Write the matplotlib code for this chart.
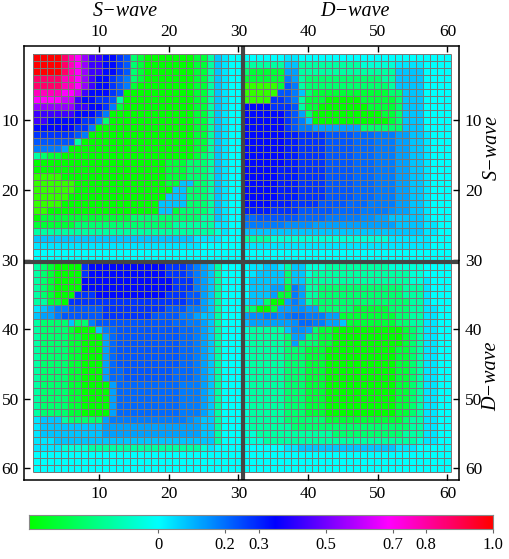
import numpy as np
import matplotlib
matplotlib.use('Agg')
import matplotlib.pyplot as plt
from matplotlib.colors import LinearSegmentedColormap, Normalize

# letter -> value
levels = {'Z': -0.45, 'A': -0.386, 'B': -0.30, 'C': -0.22, 'D': -0.14, 'E': -0.06, '0': 0.0,
          'a': 0.035, 'b': 0.08, 'c': 0.13, 'y': 0.155, 'd': 0.18, 'x': 0.205, 'e': 0.23,
          'f': 0.28, 'v': 0.31, 'g': 0.34, 'h': 0.43, 'i': 0.55, 'j': 0.62, 'k': 0.69,
          'l': 0.77, 'm': 0.87, 'n': 1.0}

ss_rows = [
    "nnnnmlkihhggfeCBAAAAAAABBDba00",
    "nnnnmlkihhggfeCBAAAAAAABBDba00",
    "nnnnmlkihhggfeCBAAAAAAABBDba00",
    "mmmmllkihggfedCBAAAAAAABBDba00",
    "mmmmllkihggfedBAAAAAAAABBDba00",
    "llllkkjhgggfeAAAAAAAAAABBDba00",
    "kkkkjjhggffeDAAAAAAAAAABBDba00",
    "iiiiiihhggfdBAAAAAAAAAABBDba00",
    "hhhhhhgggfdAAAAAAAAAAAABBDba00",
    "hhgggggffdCAAAAAAAAAAAABBDba00",
    "ggggggffdAAAAAAAAAAAAAABBDba00",
    "ffffffedAAAAAAAAAAAAAAABBDba00",
    "eeeeeeDAAAAAAAAAAAAAAAABBDba00",
    "ddddcAAAAAAAAAAAAAAAAAABBDba00",
    "DCBBAAAAAAAAAAAAAAAAAAABCDba00",
    "AAAAAAAAAAAAAAAAAAABBBCCCDba00",
    "AAAAAAAAAAAAAAAAAAABBBCCCDba00",
    "ZZZZAAAAAAAAAAAAAAABBBCCCDba00",
    "ZZZZZZAAAAAAAAAAAAABBbbCCDba00",
    "ZZZZZZAAAAAAAAAAAAAAbbCCCDba00",
    "ZZZZZAAAAAAAAAAAAAAbbbCCCDba00",
    "ZZZZAAAAAAAAAAAAAAbbbbCCCDba00",
    "ZZAAAAAAAAAAAAAAAAbbBCCCCDba00",
    "ABBBBBBBBBBBBBCCCCCCCCCCDDba00",
    "BBBBBBCCCCCCCCCCCCCCDDDDDDaa00",
    "DDDDDDDDDDDDDDDDDDDDDDDDDDEa00",
    "bbbbbbbbbbbbbbbbbbbbbbbaaaa000",
    "aaaaaaaaaaaaaaaaaaaaaaaa000000",
    "000000000000000000000000000000",
    "000000000000000000000000000000",
]

sd_rows = [
    "000000aa0000000000000000000000",
    "DDDDDDbbDDDDDDDDDEEEEEaaaa0000",
    "CBBBBBccDDDDDDDDDDDDDDbbbb0000",
    "BBBBBBdcDCCCCCCCCCCCDDbbbb0000",
    "ZZZZZBedDCCCCCCCCCCCCDbbbb0000",
    "ZZZZZeedbCBBBBBBBBBBBCCbbb0000",
    "ZZZZffedDBBBAAAAABBBBBCbbb0000",
    "ggggfffeDBBAAAAAAABBBBCbbb0000",
    "ggggggfecCAAAAAAAAAABBCbbb0000",
    "ggggggfedbAAAAAAAAAAABCbbb0000",
    "ggggggfeddcccccccCCCCCCbbb0000",
    "ggggggvvffffeeeexxxdddccbba000",
    "ggggggvvffffeeeexxxdddccbba000",
    "ggggggvvffffeeeexxxdddccbba000",
    "ggggggvvffffeeeexxxdddccbba000",
    "ggggggvvffffeeeexxxdddccbba000",
    "gggggvvvffffeeeexxxdddccbba000",
    "gggggvvvffffeeeexxxdddccbba000",
    "gggggvvvffffeeeexxxdddccbba000",
    "gggggvvvffffeeeexxxdddccbba000",
    "gggggvvvffffeeeexxxdddccbba000",
    "ggggvvvffffeeeexxxddddccbba000",
    "vvvvffffeeeeexxxxddddyccbba000",
    "xxeeeeeexxxxdddddyyccbbbbba000",
    "ddddddyyyyccccccccccccbbbbaa00",
    "bbbbbbbbbbbbbbbbbbbbbbbbbbaa00",
    "DDDDEEEEEEEEEEEEEEEEEaaaaaa000",
    "aaaaaaaaaaaaaaaaaaaaaaaaaaa000",
    "000000000000000000000000000000",
    "000000000000000000000000000000",
]

ds_rows = [
    "DCBAAAAfgggggggggggfffedcbD000",
    "DCBAAAAfgggggggggggfffedcbD000",
    "DCBAAAAgggggggggggggfffdcbD000",
    "DCBAAAAgggggggggggggfffdcbD000",
    "DCBAAAfffggggggggggfffeecbD000",
    "DDBBAfffffffffffffffffeecbD000",
    "abcddeeeeefffffffffeeeddcbD000",
    "bccdeeeeeefffffffeeeeddcbbD000",
    "DCCCCbCCdeeeeeeeeeeexxddcbD000",
    "DCCCCBAAAbdxeeeeeeeeexxdcbD000",
    "DCCCCBBAAAcxeeeeeeeeexxdcbD000",
    "DCCCCBBAAAcxeeeeeeeeexxdcbD000",
    "DCCCCBBAAAcxeeeeeeeeexxdcbD000",
    "DCCCCBBAAAcxeeeeeeeeexxdcbD000",
    "DCCCCBBAAAcxeeeeeeeeexxdcbD000",
    "DCCCCBBAAAcxxeeeeeeexxxdcbD000",
    "DCCCCBBAAAcxxeeeeeeexxxdcbD000",
    "DCCCCBBAAAAcxxxxxxxxxdddcbD000",
    "DCCCCBBAAAAcxxxxxxxxxdddcbD000",
    "DCCCCBBAAAAcxxxxxxxxxdddcbD000",
    "DCCCCBBAAAAcxxxxxxxxxdddcbD000",
    "DCCCCBBAAAAcxxxxxxxxxdddcbD000",
    "abbbDCCCCCcdddddddddddycbbD000",
    "abbbbbbbbbccccccccccccccbbD000",
    "abbbbbbbbbccccccccccccccbbD000",
    "aaabbbbbbbbbbbbbbbbbbbbbbbD000",
    "aaaaEEEEDDDDDDDDDDDDDDDDEa0000",
    "000000000000000000000000000000",
    "000000000000000000000000000000",
    "000000000000000000000000000000",
]

dd_rows = [
    "0aabbaDbbEEEDDDDDDDDDEEEEE0000",
    "0abbbbCbbEDDDDDDDDDDDDDDEE0000",
    "0bbbbbCbbDDDDDDDDDDDDDDDEEa000",
    "0bbbccBdcDDCCCCCCCCCCCCDDDa000",
    "0bbbcBBdcDDCCCCCCCCCCCCDDDa000",
    "abbCAAcdcDCCCCCCCCCCCCCCDDa000",
    "DCAABccyyccCCCCCBBBBBCCCDDaa00",
    "cyyddydxxdddccBBBBBBBBCCDDaa00",
    "bccccccyxxddccbBBBBBBBCCDDaa00",
    "EDDDDDbyycCBBAAAAAAAAAABCDaa00",
    "EDDDDDCccCCBBAAAAAAAAAABCDaa00",
    "EDDDDDCcCCCBBAAAAAAAAAABCDaa00",
    "EDDDDDCCCBBBAAAAAAAAAABBCDaa00",
    "EDDDDDCCCBBBAAAAAAAAAABBCDaa00",
    "EDDDDDCCCBBBAAAAAAAAAABBCDaa00",
    "EDDDDDCCCBBBAAAAAAAAAABBCDaa00",
    "EDDDDDCCCBBBAAAAAAAAAABBCDaa00",
    "EDDDDDCCCBBBAAAAAAAAAABBCDaa00",
    "EDDDDDCCCBBBAAAAAAAAAABBCDaa00",
    "EDDDDDCCCBBBAAAAAAAAAABBCDaa00",
    "EDDDDDCCCBBBAAAAAAAAAABBCDaa00",
    "EDDDDDCCCBBBAAAAAAAAAABBCDaa00",
    "EDDDDDCCCCCCBBBBBBBBBBBCDDaa00",
    "EDDDDDDCCCCCCCCCCCCCCCCCDDaa00",
    "EEDDDDDDDDDDDCCCCCCCCCCDDDaa00",
    "EEEDDDDDDDDDDDDDDDDDDDDDDEaa00",
    "000000aabbbbbbbbbbbbbbaaa00000",
    "000000000000000000000000000000",
    "000000000000000000000000000000",
    "000000000000000000000000000000",
]

bar_ticks = [0, 0.2, 0.3, 0.5, 0.7, 0.8, 1.0]
bar_labels = ['0', '0.2', '0.3', '0.5', '0.7', '0.8', '1.0']
axis_ticks = [10, 20, 30, 40, 50, 60]

top = [list(a + b) for a, b in zip(ss_rows, sd_rows)]
bottom = [list(a + b) for a, b in zip(ds_rows, dd_rows)]
data = np.array([[levels[c] for c in row] for row in top + bottom])

plt.rcParams['font.family'] = ['Liberation Serif', 'DejaVu Serif']

# hue wheel green -> cyan -> blue -> magenta -> red
vmin, vmax = -0.45, 1.0
anchors = [(-0.45, (0.2, 1, 0)), (-0.386, (0, 1, 0)), (0, (0, 1, 1)), (0.35, (0, 0, 1)),
           (0.69, (1, 0, 1)), (1.0, (1, 0, 0))]
cmap = LinearSegmentedColormap.from_list('hue', [((v - vmin) / (vmax - vmin), c) for v, c in anchors], N=512)
norm = Normalize(vmin, vmax)

W, H = 510, 559
fig = plt.figure(figsize=(W / 100, H / 100), dpi=100)
ax = fig.add_axes([24.3 / W, 1 - 480 / H, 435 / W, 434 / H])

edges = np.arange(0.5, 61)
ax.pcolormesh(edges, edges, data, cmap=cmap, norm=norm, linewidth=0, antialiased=False)
ax.hlines(edges, 0.5, 60.5, color='#787878', lw=0.72)
ax.vlines(edges, 0.5, 60.5, color='#787878', lw=0.72)
ax.set_xlim(-0.7, 61.7)
ax.set_ylim(61.7, -0.7)
ax.axhline(30.4, color='#444444', lw=3.0)
ax.axvline(30.65, color='#444444', lw=3.0)

ax.set_xticks(axis_ticks)
ax.set_yticks(axis_ticks)
ax.tick_params(direction='in', length=4, width=1, top=True, right=True, labeltop=True,
               labelright=True, labelsize=12.5, pad=4)
for s in ax.spines.values():
    s.set_linewidth(1.1)

cax = fig.add_axes([29 / W, 1 - 529 / H, 464 / W, 14 / H])
bar = np.linspace(-0.386, 1.0, 500)[None, :]
cax.imshow(bar, aspect='auto', cmap=cmap, norm=norm, extent=[-0.386, 1.0, 0, 1])
cax.set_yticks([])
cax.set_xticks(bar_ticks)
cax.set_xticklabels(bar_labels)
cax.tick_params(axis='x', length=3, width=0.8, color='#666666', labelsize=12, pad=3)
for s in cax.spines.values():
    s.set_color('#888888')
    s.set_linewidth(0.8)

style = dict(fontsize=14.5, style='italic', ha='center', va='center')
fig.text(125 / W, 1 - 11 / H, 'S\u2212wave', **style)
fig.text(355 / W, 1 - 11 / H, 'D\u2212wave', **style)
fig.text(492 / W, 1 - 147 / H, 'S\u2212wave', rotation=90, **style)
fig.text(492 / W, 1 - 376 / H, 'D\u2212wave', rotation=90, **style)

fig.savefig('out.png', dpi=100)
